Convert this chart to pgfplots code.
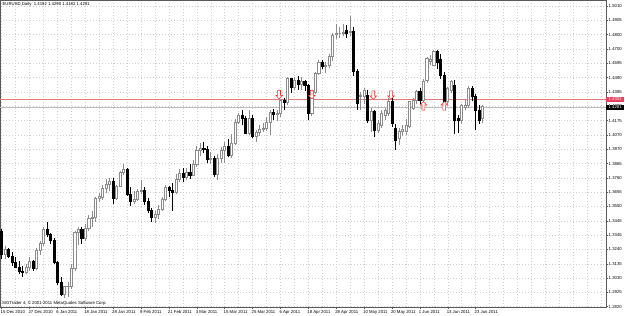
\documentclass[border=0pt]{standalone}
\usepackage{pgfplots}
\pgfplotsset{compat=1.18}
\usepackage{pgfplotstable}
\usepackage{fontspec}
\setmainfont{Liberation Sans}
\definecolor{bullc}{HTML}{8C8C8C}
\definecolor{gridc}{HTML}{CFCFCF}
\definecolor{redl}{HTML}{E87A7A}
\definecolor{redbox}{HTML}{E8405A}
\definecolor{bidl}{HTML}{BDBDBD}
\newcommand{\tf}{\fontsize{4.3}{5}\selectfont}
\def\kk{1378.1}
\pgfplotstableread{
i o h l c
0 1.3366 1.3385 1.3170 1.3204
1 1.3204 1.3260 1.3170 1.3235
2 1.3235 1.3250 1.3175 1.3185
3 1.3185 1.3220 1.3120 1.3140
4 1.3140 1.3180 1.3100 1.3110
5 1.3110 1.3150 1.3060 1.3080
6 1.3080 1.3120 1.3040 1.3070
7 1.3070 1.3130 1.3060 1.3110
8 1.3110 1.3180 1.3080 1.3150
9 1.3150 1.3160 1.3080 1.3100
10 1.3100 1.3250 1.3090 1.3230
11 1.3230 1.3300 1.3200 1.3280
12 1.3280 1.3400 1.3260 1.3380
13 1.3380 1.3440 1.3330 1.3350
14 1.3350 1.3360 1.3280 1.3300
15 1.3300 1.3320 1.3130 1.3140
16 1.3140 1.3150 1.2980 1.3000
17 1.3000 1.3040 1.2900 1.2910
18 1.2910 1.2970 1.2880 1.2965
19 1.2965 1.3000 1.2890 1.2970
20 1.2970 1.3130 1.2950 1.3100
21 1.3100 1.3370 1.3080 1.3360
22 1.3360 1.3400 1.3270 1.3380
23 1.3380 1.3400 1.3280 1.3320
24 1.3320 1.3420 1.3300 1.3390
25 1.3390 1.3490 1.3370 1.3460
26 1.3460 1.3520 1.3400 1.3470
27 1.3470 1.3620 1.3440 1.3610
28 1.3610 1.3650 1.3580 1.3620
29 1.3620 1.3710 1.3600 1.3680
30 1.3680 1.3750 1.3650 1.3710
31 1.3710 1.3760 1.3660 1.3730
32 1.3730 1.3760 1.3570 1.3610
33 1.3610 1.3710 1.3600 1.3700
34 1.3700 1.3810 1.3690 1.3800
35 1.3800 1.3860 1.3780 1.3820
36 1.3820 1.3830 1.3630 1.3640
37 1.3640 1.3690 1.3550 1.3590
38 1.3590 1.3660 1.3570 1.3600
39 1.3600 1.3680 1.3590 1.3660
40 1.3660 1.3740 1.3640 1.3670
41 1.3670 1.3690 1.3560 1.3590
42 1.3590 1.3610 1.3500 1.3520
43 1.3520 1.3540 1.3440 1.3470
44 1.3470 1.3520 1.3430 1.3490
45 1.3490 1.3560 1.3460 1.3530
46 1.3530 1.3620 1.3520 1.3600
47 1.3600 1.3710 1.3590 1.3690
48 1.3690 1.3700 1.3620 1.3670
49 1.3670 1.3720 1.3520 1.3650
50 1.3650 1.3790 1.3640 1.3750
51 1.3750 1.3820 1.3730 1.3790
52 1.3790 1.3830 1.3730 1.3760
53 1.3760 1.3830 1.3740 1.3800
54 1.3800 1.3860 1.3750 1.3780
55 1.3780 1.3890 1.3770 1.3860
56 1.3860 1.3990 1.3840 1.3960
57 1.3960 1.4010 1.3920 1.3975
58 1.3975 1.4020 1.3940 1.3965
59 1.3965 1.3990 1.3870 1.3895
60 1.3895 1.3950 1.3860 1.3900
61 1.3900 1.3920 1.3767 1.3785
62 1.3785 1.3930 1.3745 1.3900
63 1.3900 1.3980 1.3870 1.3960
64 1.3960 1.4020 1.3870 1.3990
65 1.3990 1.4040 1.3910 1.3925
66 1.3925 1.4080 1.3900 1.4010
67 1.4010 1.4190 1.4000 1.4165
68 1.4165 1.4230 1.4150 1.4215
69 1.4215 1.4250 1.4140 1.4190
70 1.4190 1.4210 1.4080 1.4085
71 1.4085 1.4250 1.4070 1.4190
72 1.4190 1.4220 1.4050 1.4060
73 1.4060 1.4110 1.4022 1.4090
74 1.4090 1.4140 1.4060 1.4110
75 1.4110 1.4160 1.4090 1.4120
76 1.4120 1.4200 1.4100 1.4160
77 1.4160 1.4250 1.4070 1.4235
78 1.4235 1.4260 1.4180 1.4220
79 1.4220 1.4250 1.4170 1.4225
80 1.4225 1.4330 1.4200 1.4320
81 1.4320 1.4340 1.4250 1.4305
82 1.4305 1.4490 1.4290 1.4480
83 1.4480 1.4480 1.4380 1.4420
84 1.4420 1.4490 1.4400 1.4470
85 1.4470 1.4500 1.4400 1.4440
86 1.4440 1.4490 1.4400 1.4460
87 1.4460 1.4470 1.4390 1.4430
88 1.4430 1.4440 1.4180 1.4230
89 1.4230 1.4390 1.4210 1.4380
90 1.4380 1.4530 1.4370 1.4520
91 1.4520 1.4620 1.4510 1.4600
92 1.4600 1.4620 1.4550 1.4570
93 1.4570 1.4600 1.4520 1.4580
94 1.4580 1.4660 1.4560 1.4640
95 1.4640 1.4810 1.4610 1.4800
96 1.4800 1.4880 1.4770 1.4810
97 1.4810 1.4860 1.4780 1.4810
98 1.4810 1.4880 1.4790 1.4818
99 1.4830 1.4870 1.4780 1.4810
100 1.4820 1.4935 1.4790 1.4825
101 1.4823 1.4860 1.4500 1.4532
102 1.4532 1.4550 1.4253 1.4301
103 1.4350 1.4385 1.4253 1.4358
104 1.4350 1.4410 1.4300 1.4398
105 1.4360 1.4400 1.4156 1.4180
106 1.4180 1.4270 1.4090 1.4240
107 1.4240 1.4250 1.4058 1.4107
108 1.4107 1.4180 1.4083 1.4156
109 1.4143 1.4250 1.4120 1.4231
110 1.4216 1.4270 1.4180 1.4253
111 1.4229 1.4340 1.4210 1.4313
112 1.4313 1.4345 1.4130 1.4156
113 1.4119 1.4150 1.3961 1.4034
114 1.4047 1.4120 1.4000 1.4095
115 1.4095 1.4140 1.4060 1.4110
116 1.4095 1.4190 1.4070 1.4140
117 1.4131 1.4320 1.4120 1.4313
118 1.4265 1.4340 1.4250 1.4325
119 1.4325 1.4400 1.4300 1.4386
120 1.4386 1.4410 1.4300 1.4325
121 1.4325 1.4480 1.4300 1.4459
122 1.4471 1.4640 1.4450 1.4631
123 1.4610 1.4655 1.4580 1.4625
124 1.4580 1.4690 1.4570 1.4677
125 1.4677 1.4690 1.4550 1.4600
126 1.4620 1.4660 1.4480 1.4508
127 1.4508 1.4530 1.4300 1.4313
128 1.4313 1.4420 1.4290 1.4410
129 1.4398 1.4470 1.4380 1.4459
130 1.4435 1.4470 1.4075 1.4180
131 1.4195 1.4220 1.4085 1.4180
132 1.4180 1.4300 1.4150 1.4289
133 1.4270 1.4330 1.4250 1.4289
134 1.4289 1.4430 1.4270 1.4410
135 1.4410 1.4425 1.4320 1.4350
136 1.4350 1.4370 1.4107 1.4253
137 1.4253 1.4290 1.4150 1.4180
138 1.4192 1.4290 1.4160 1.4281
}\ohlc
\pgfplotstableread{
x y
79.6 1.4366
89.0 1.4366
106.6 1.4362
111.7 1.4362
}\dnarr
\pgfplotstableread{
x y
121.0 1.4282
127.0 1.4282
}\uparr
\pgfdeclareplotmark{candle}{%
  \pgfmathsetmacro{\ylo}{(\vl-\vo)*\kk}%
  \pgfmathsetmacro{\yhi}{(\vh-\vo)*\kk}%
  \pgfmathsetmacro{\yc}{(\vc-\vo)*\kk}%
  \pgfsetlinewidth{0.75bp}%
  \ifdim\yc pt<0pt
    \pgfsetstrokecolor{black}\pgfsetfillcolor{black}%
  \else
    \pgfsetstrokecolor{bullc}\pgfsetfillcolor{white}%
  \fi
  \pgfpathmoveto{\pgfqpoint{0pt}{\ylo pt}}%
  \pgfpathlineto{\pgfqpoint{0pt}{\yhi pt}}%
  \pgfusepathqstroke
  \pgfpathrectangle{\pgfqpoint{-1.05bp}{0pt}}{\pgfqpoint{2.1bp}{\yc pt}}%
  \pgfusepathqfillstroke}
\pgfdeclareplotmark{uparrow}{%
  \pgfpathmoveto{\pgfqpoint{0bp}{4.4bp}}%
  \pgfpathlineto{\pgfqpoint{3.2bp}{1bp}}%
  \pgfpathlineto{\pgfqpoint{1.4bp}{1bp}}%
  \pgfpathlineto{\pgfqpoint{1.4bp}{-4.2bp}}%
  \pgfpathlineto{\pgfqpoint{-1.4bp}{-4.2bp}}%
  \pgfpathlineto{\pgfqpoint{-1.4bp}{1bp}}%
  \pgfpathlineto{\pgfqpoint{-3.2bp}{1bp}}%
  \pgfpathclose
  \pgfusepathqfillstroke}
\pgfdeclareplotmark{downarrow}{%
  \pgfpathmoveto{\pgfqpoint{0bp}{-4.4bp}}%
  \pgfpathlineto{\pgfqpoint{3.2bp}{-1bp}}%
  \pgfpathlineto{\pgfqpoint{1.4bp}{-1bp}}%
  \pgfpathlineto{\pgfqpoint{1.4bp}{4.2bp}}%
  \pgfpathlineto{\pgfqpoint{-1.4bp}{4.2bp}}%
  \pgfpathlineto{\pgfqpoint{-1.4bp}{-1bp}}%
  \pgfpathlineto{\pgfqpoint{-3.2bp}{-1bp}}%
  \pgfpathclose
  \pgfusepathqfillstroke}
\begin{document}
\begin{tikzpicture}
\path[use as bounding box] (0,-9bp) rectangle (625bp,307bp);
\begin{axis}[
  scale only axis, width=606bp, height=307bp,
  at={(0,0)}, anchor=south west,
  xmin=-0.49, xmax=173.4,
  ymin=1.2818, ymax=1.5054,
  axis line style={draw=black!65, line width=0.7bp},
  xtick={0,8,...,136},
  xticklabels={15 Dec 2010,27 Dec 2010,6 Jan 2011,18 Jan 2011,28 Jan 2011,9 Feb 2011,21 Feb 2011,3 Mar 2011,15 Mar 2011,25 Mar 2011,6 Apr 2011,18 Apr 2011,28 Apr 2011,10 May 2011,20 May 2011,1 Jun 2011,13 Jun 2011,23 Jun 2011},
  minor xtick={4,8,...,172},
  ytick={1.2820,1.29243,1.30286,1.31329,1.32372,1.33415,1.34457,1.355,1.36543,1.37586,1.38629,1.39672,1.40715,1.41758,1.428,1.43843,1.44886,1.45929,1.46972,1.48015,1.49058,1.5010},
  yticklabels={1.2820,1.2925,1.3030,1.3135,1.3240,1.3345,1.3445,1.3550,1.3655,1.3760,1.3865,1.3970,1.4070,1.4175,1.4280,1.4385,1.4490,1.4595,1.4700,1.4800,1.4905,1.5010},
  xtick pos=lower, ytick pos=right, yticklabel pos=right,
  tick align=outside, major tick length=2bp, minor tick length=0pt,
  tick style={draw=black!65, line width=0.5bp},
  grid=both,
  major grid style={draw=gridc, line width=0.5bp, dash pattern=on 1bp off 2bp},
  minor grid style={draw=gridc, line width=0.5bp, dash pattern=on 1bp off 2bp},
  xticklabel style={anchor=north west, inner sep=0pt, xshift=-1.2bp, yshift=-1.2bp, font=\tf},
  yticklabel style={anchor=west, inner sep=0pt, xshift=0.5bp, font=\tf},
  clip=true,
]
% horizontal lines
\addplot[draw=redl, line width=0.7bp] coordinates {(-0.49,1.4331) (173.4,1.4331)};
\addplot[draw=bidl, line width=0.7bp] coordinates {(-0.49,1.4274) (173.4,1.4274)};
% candles
\addplot[scatter, only marks, mark=candle,
  scatter/use mapped color={draw=black, fill=black},
  visualization depends on={\thisrow{o} \as \vo},
  visualization depends on={\thisrow{h} \as \vh},
  visualization depends on={\thisrow{l} \as \vl},
  visualization depends on={\thisrow{c} \as \vc}]
  table[x=i, y=o] {\ohlc};
% arrows
\addplot[only marks, mark=downarrow, mark options={draw=red!85, fill=white, line width=0.55bp}] table[x=x,y=y] {\dnarr};
\addplot[only marks, mark=uparrow, mark options={draw=red!85, fill=white, line width=0.55bp}] table[x=x,y=y] {\uparr};
% texts
\node[anchor=north west, inner sep=0pt, font=\tf] at (rel axis cs:0.004,0.993) {EURUSD,Daily\ \ 1.4192 1.4290 1.4182 1.4281};
\node[anchor=south west, inner sep=0pt, font=\tf] at (rel axis cs:0.003,0.006) {SIGTrader 4, \textcopyright\ 2001-2011 MetaQuotes Software Corp.};
\end{axis}
\begin{axis}[
  scale only axis, width=606bp, height=307bp,
  at={(0,0)}, anchor=south west,
  xmin=-0.49, xmax=173.4, ymin=1.2818, ymax=1.5054,
  axis lines=none, clip=false,
]
\node[anchor=west, fill=redbox, text=white, inner xsep=0.8bp, inner ysep=0.9bp, minimum width=18bp, font=\tf] at (axis cs:173.4,1.4331) {1.4331};
\node[anchor=west, fill=black, text=white, inner xsep=0.8bp, inner ysep=0.9bp, minimum width=18bp, font=\tf] at (axis cs:173.4,1.4274) {1.4281};
\end{axis}
\end{tikzpicture}
\end{document}
